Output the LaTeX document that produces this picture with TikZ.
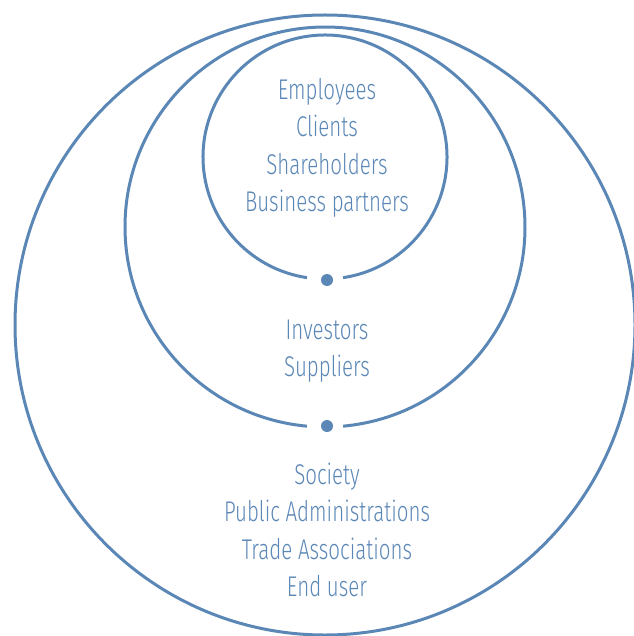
\documentclass[tikz,border=0pt]{standalone}
\usepackage{fontspec}
\usepackage{tikz}
\usetikzlibrary{positioning}
\newfontfamily\labelfont[FakeStretch=0.72]{Fira Sans Light}
\definecolor{ringblue}{RGB}{91,135,182}

\begin{document}
\begin{tikzpicture}[x=1pt,y=1pt,
      ring/.style={draw=ringblue,line width=3pt},
      dot node/.style={circle,fill=ringblue,inner sep=0pt,minimum size=12pt},
      group node/.style={align=center,text=ringblue,font=\labelfont\fontsize{28.5}{37.5}\selectfont}]
      \useasboundingbox (0,0) rectangle (633,-636);

      % ring centres
      \coordinate (inner) at (325,-157);
      \coordinate (middle) at (325,-227);
      \coordinate (outer) at (325,-325);

      % rings, the two inner ones open at the bottom
      \draw[ring] ([shift={(-81.5:122)}]inner) arc[start angle=-81.5,end angle=261.5,radius=122];
      \draw[ring] ([shift={(-84.8:200)}]middle) arc[start angle=-84.8,end angle=264.8,radius=200];
      \draw[ring] (outer) circle[radius=310];

      \node[dot node] (d1) at (327,-280) {};
      \node[dot node] (d2) at (327,-426) {};

      \node[group node] (core) at (327,-148) {Employees\\Clients\\Shareholders\\Business partners};
      \node[group node] (near) at (327,-351) {Investors\\Suppliers};
      \node[group node] (wide) at (327,-530) {Society\\Public Administrations\\Trade Associations\\End user};
\end{tikzpicture}
\end{document}
